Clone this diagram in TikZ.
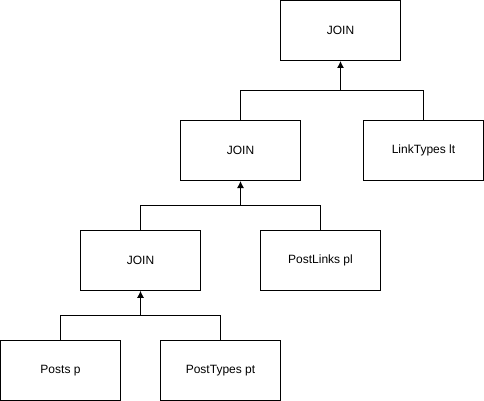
\documentclass[tikz,border=0pt]{standalone}
\usepackage{fontspec}
\setmainfont{Liberation Sans}
\usetikzlibrary{arrows.meta}
\begin{document}
\begin{tikzpicture}[x=1pt,y=-1pt,
  box/.style={draw=black,line width=1pt,minimum width=120pt,minimum height=60pt,inner sep=0pt,font=\fontsize{12pt}{14pt}\selectfont},
  link/.style={line width=1pt},
  uparrow/.style={line width=1pt,-{Latex[length=7pt,width=7pt]}}]
\useasboundingbox (0,0) rectangle (484,401);
\node[box] (top) at (340.5,30.5) {JOIN};
\node[box] (mid) at (240.5,150.5) {JOIN};
\node[box] (lt) at (423.5,150.5) {LinkTypes lt};
\node[box] (low) at (140.5,260.3) {JOIN};
\node[box] (pl) at (320.5,260.3) {PostLinks pl};
\node[box] (posts) at (60.5,370.3) {Posts p};
\node[box] (pt) at (220.5,370.3) {PostTypes pt};
\coordinate (h1) at (340.5,90.3);
\coordinate (h2) at (240.5,205.3);
\coordinate (h3) at (140.5,315.3);
\draw[link] (mid.north) |- (h1) -| (lt.north);
\draw[uparrow] (h1) -- (top.south);
\draw[link] (low.north) |- (h2) -| (pl.north);
\draw[uparrow] (h2) -- (mid.south);
\draw[link] (posts.north) |- (h3) -| (pt.north);
\draw[uparrow] (h3) -- (low.south);
\end{tikzpicture}
\end{document}
